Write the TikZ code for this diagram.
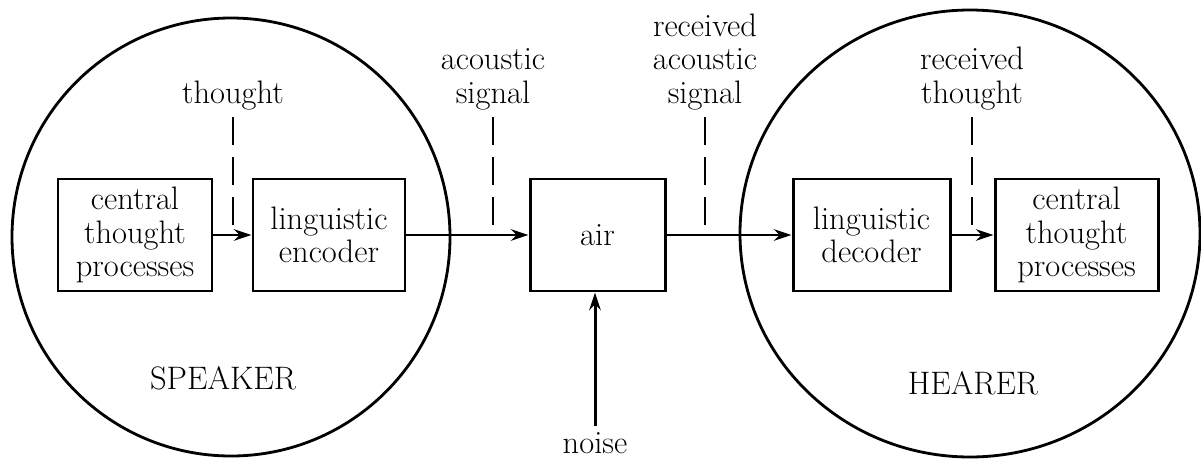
\documentclass[tikz,border=0pt]{standalone}
\usepackage{tikz}
\usetikzlibrary{arrows.meta,positioning,shapes.geometric}
\begin{document}
\begin{tikzpicture}[>={Stealth[length=10pt,width=6.5pt]},font=\fontsize{18.5}{19}\selectfont,
 box/.style={draw,line width=1.7pt,minimum height=2.24cm,inner sep=0pt,align=center},
 lbl/.style={align=center,anchor=south,inner sep=0pt},
 dsh/.style={line width=1.3pt,dash pattern=on 0.56cm off 0.24cm}]
\useasboundingbox (0,0) rectangle (24.02,-9.18);
\node[draw,circle,line width=1.6pt,minimum size=8.76cm] (spk) at (4.62,-4.74) {};
\node[draw,ellipse,line width=1.6pt,minimum width=9.2cm,minimum height=8.94cm,inner sep=0pt] (hrr) at (19.4,-4.67) {};
\node[box,minimum width=3.08cm] (ctp1) at (2.7,-4.7) {central\\thought\\processes};
\node[box,minimum width=3.04cm] (enc) at (6.58,-4.7) {linguistic\\encoder};
\node[box,minimum width=2.7cm] (air) at (11.95,-4.7) {air};
\node[box,minimum width=3.14cm] (dec) at (17.43,-4.7) {linguistic\\decoder};
\node[box,minimum width=3.26cm] (ctp2) at (21.53,-4.7) {central\\thought\\processes};
\foreach \a/\b in {ctp1/enc,enc/air,air/dec,dec/ctp2} \draw[->,line width=1.7pt] (\a) -- (\b);
\node[lbl] (th1) at (4.66,-2.2) {thought};
\node[lbl] (sig1) at (9.86,-2.2) {acoustic\\signal};
\node[lbl] (sig2) at (14.1,-2.2) {received\\acoustic\\signal};
\node[lbl] (th2) at (19.44,-2.2) {received\\thought};
\foreach \n in {th1,sig1,sig2,th2} \draw[dsh] ([yshift=-0.14cm]\n.south) -- ([yshift=-2.3cm]\n.south);
\node (spkl) at (4.46,-7.56) {SPEAKER};
\node (hrrl) at (19.46,-7.66) {HEARER};
\node (noise) at (11.9,-8.86) {noise};
\draw[->,line width=1.7pt] (noise) -- (noise |- air.south);
\end{tikzpicture}
\end{document}
